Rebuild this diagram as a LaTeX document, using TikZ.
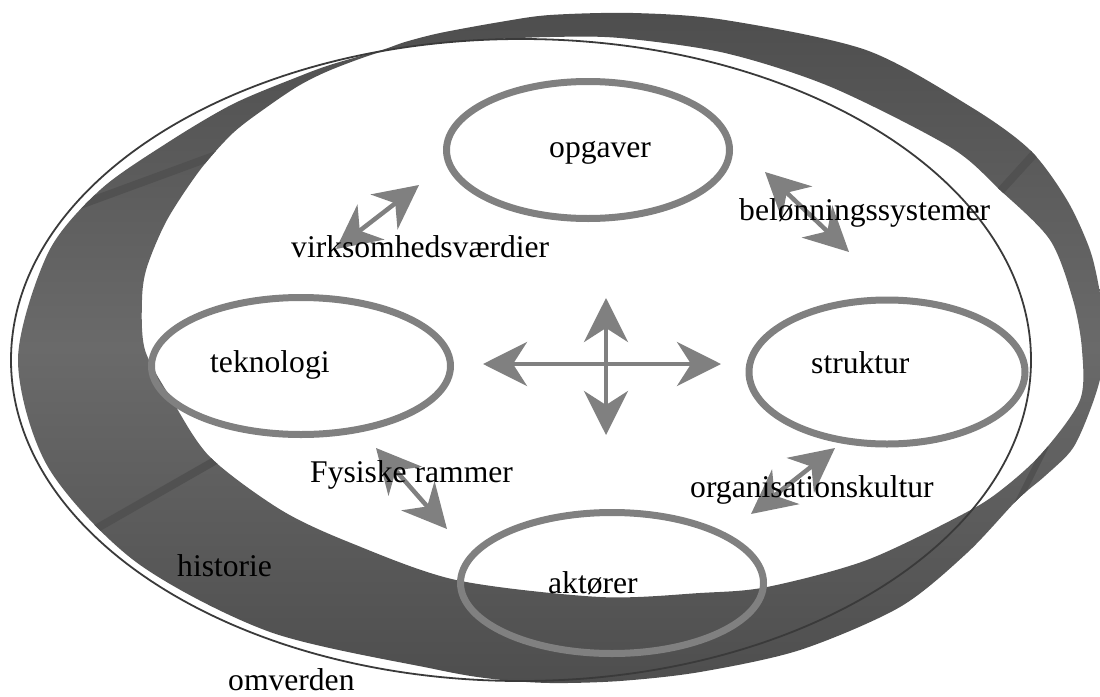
\documentclass[tikz,border=0pt]{standalone}
\usepackage{fontspec}
\setmainfont{Liberation Serif}
\usetikzlibrary{arrows.meta,shapes.geometric}

\definecolor{bandmid}{HTML}{6A6A6A}
\definecolor{banddark}{HTML}{4E4E4E}
\definecolor{seamgrey}{HTML}{515151}
\definecolor{rimgrey}{HTML}{3A3A3A}
\definecolor{accent}{HTML}{808080}

% outer and inner edges of the grey ring
\def\outeredge{plot[smooth cycle] coordinates {
  (382,50) (333,64) (300,76) (233,104) (167,143) (100,190) (48,253)
  (18,360) (48,467) (136,562) (270,632) (434,669) (493,679) (550,683)
  (620,681) (700,672) (800,650) (900,607) (967,553) (1017,500)
  (1045,476) (1073,448) (1092,405) (1102,370) (1105,330) (1100,293)
  (1090,250) (1067,200) (1030,150) (971,107) (866,50) (725,20)
  (633,13) (550,15) (500,22) (440,33) (405,42)}}
\def\inneredge{plot[smooth cycle] coordinates {
  (384,51) (333,69) (300,85) (267,107) (233,133) (200,170) (167,220)
  (147,267) (142,300) (145,350) (172,400) (210,457) (281,510)
  (351,543) (456,580) (600,597) (700,593) (767,587) (867,560)
  (967,512) (1005,487) (1043,452) (1080,400) (1082,350) (1073,300)
  (1050,240) (1000,190) (950,147) (831,87) (725,53) (620,38)
  (550,37) (480,40) (430,44)}}

\tikzset{
  seamline/.style={draw=seamgrey, line width=8pt},
  rimline/.style={draw=rimgrey, line width=1.8pt},
  ring/.style={ellipse, draw=accent, line width=7pt, inner sep=0pt},
  dbl/.style={draw=accent, line width=4.5pt,
    {Stealth[length=44pt,width=44pt,inset=14pt]}-{Stealth[length=44pt,width=44pt,inset=14pt]}},
  lbl/.style={anchor=base west, inner sep=0pt, font=\fontsize{31.6}{38}\selectfont}
}

\begin{document}
\begin{tikzpicture}[x=1pt,y=-1pt]
\useasboundingbox (0,0) rectangle (1100,696);

% the shaded ring
\shade[even odd rule, top color=banddark, bottom color=banddark, middle color=bandmid]
  \outeredge \inneredge;

% darker seams across the ring
\begin{scope}[even odd rule]
  \clip \outeredge \inneredge;
  \draw[seamline] (80,205) -- (230,150);
  \draw[seamline] (85,535) -- (225,455);
  \draw[seamline] (995,197) -- (1045,142);
  \draw[seamgrey, line width=6pt] (1008,522) -- (1046,446);
\end{scope}

% thin outline of the surroundings
\draw[rimline] (521,360) ellipse [x radius=510pt, y radius=321pt];

% the four elements
\node[ring, minimum width=283pt, minimum height=137pt] (opg) at (588,150) {};
\node[ring, minimum width=299pt, minimum height=137pt] (tek) at (301,366) {};
\node[ring, minimum width=276pt, minimum height=144pt] (str) at (887,372) {};
\node[ring, minimum width=303pt, minimum height=141pt] (akt) at (612,583) {};

% arrow end points
\coordinate (vA) at (336,249); \coordinate (vB) at (419,185);
\coordinate (bA) at (765,172); \coordinate (bB) at (849,252);
\coordinate (fA) at (376,448); \coordinate (fB) at (447,529);
\coordinate (oA) at (751,514); \coordinate (oB) at (835,448);
\coordinate (cW) at (483,364); \coordinate (cE) at (721,364);
\coordinate (cN) at (606,298); \coordinate (cS) at (606,435);

\draw[dbl] (vA) -- (vB);
\draw[dbl] (bA) -- (bB);
\draw[dbl] (fA) -- (fB);
\draw[dbl] (oA) -- (oB);
\draw[dbl] (cW) -- (cE);
\draw[dbl] (cN) -- (cS);

% labels
\node[lbl] (topg) at (549,157) {opgaver};
\node[lbl] (ttek) at (210,372) {teknologi};
\node[lbl] (tstr) at (811,373) {struktur};
\node[lbl] (takt) at (548,593) {aktører};
\node[lbl] (tvirk) at (291,257) {virksomhedsværdier};
\node[lbl] (tbel) at (739,220) {belønningssystemer};
\node[lbl] (tfys) at (310,482) {Fysiske rammer};
\node[lbl] (torg) at (690,497) {organisationskultur};
\node[lbl] (this) at (177,576) {historie};
\node[lbl] (tomv) at (228,690) {omverden};
\end{tikzpicture}
\end{document}
